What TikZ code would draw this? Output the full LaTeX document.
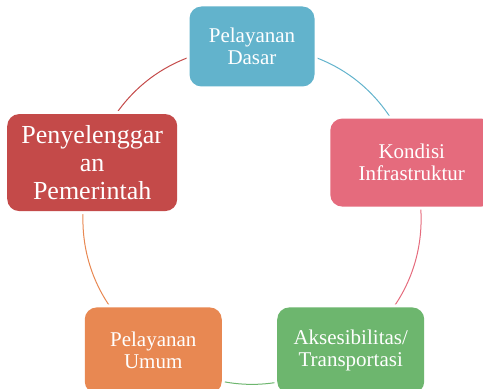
\documentclass[tikz,border=0pt]{standalone}
\usepackage{fontspec}
\setmainfont{Liberation Serif}
\usepackage{tikz}
\usetikzlibrary{calc}
\usetikzlibrary{positioning}
\usetikzlibrary{backgrounds}
\newcommand{\TikZscale}{1}
\newcommand{\px}{*\TikZscale pt}
\definecolor{dasar}{RGB}{98,179,204}
\definecolor{infra}{RGB}{229,107,125}
\definecolor{akses}{RGB}{109,182,110}
\definecolor{umum}{RGB}{232,136,82}
\definecolor{pemda}{RGB}{196,74,73}
\tikzset{every picture/.style={auto, node distance=5\px}}
\tikzstyle{box}		= [rounded corners=12pt, text=white, align=center, inner sep=0pt,
				   preaction={draw=white, line width=6pt},
				   font=\fontsize{21}{22}\selectfont]
\tikzstyle{ring}	= [line width=1pt, bend left=36]

\begin{document}
\begin{tikzpicture}
	\clip (0,0) rectangle (483\px,389\px);
	\coordinate (c) at (252\px,174.5\px);

	% Kotak
	\node[box, fill=dasar, minimum width=125pt, minimum height=80pt]
		(pd) at ($(c)+(90:168\px)$) {Pelayanan\\Dasar};
	\node[box, fill=infra, minimum width=163pt, minimum height=88pt]
		(ki) at ($(c)+(18:168\px)$) {Kondisi\\Infrastruktur};
	\node[box, fill=akses, minimum width=147pt, minimum height=86pt]
		(as) at ($(c)+(-54:168\px)$) {Aksesibilitas/\\Transportasi};
	\node[box, fill=umum, minimum width=137pt, minimum height=86pt]
		(pu) at ($(c)+(-126:168\px)$) {Pelayanan\\Umum};
	\node[box, fill=pemda, minimum width=170pt, minimum height=97pt,
		font=\fontsize{26}{28}\selectfont]
		(pp) at ($(c)+(162:168\px)$) {Penyelenggar\\an\\Pemerintah};

	% Lingkaran
	\begin{scope}[on background layer]
		\draw[ring, dasar] (pd.center) to (ki.center);
		\draw[ring, infra] (ki.center) to (as.center);
		\draw[ring, akses] (as.center) to (pu.center);
		\draw[ring, umum]  (pu.center) to (pp.center);
		\draw[ring, pemda] (pp.center) to (pd.center);
	\end{scope}
\end{tikzpicture}
\end{document}
